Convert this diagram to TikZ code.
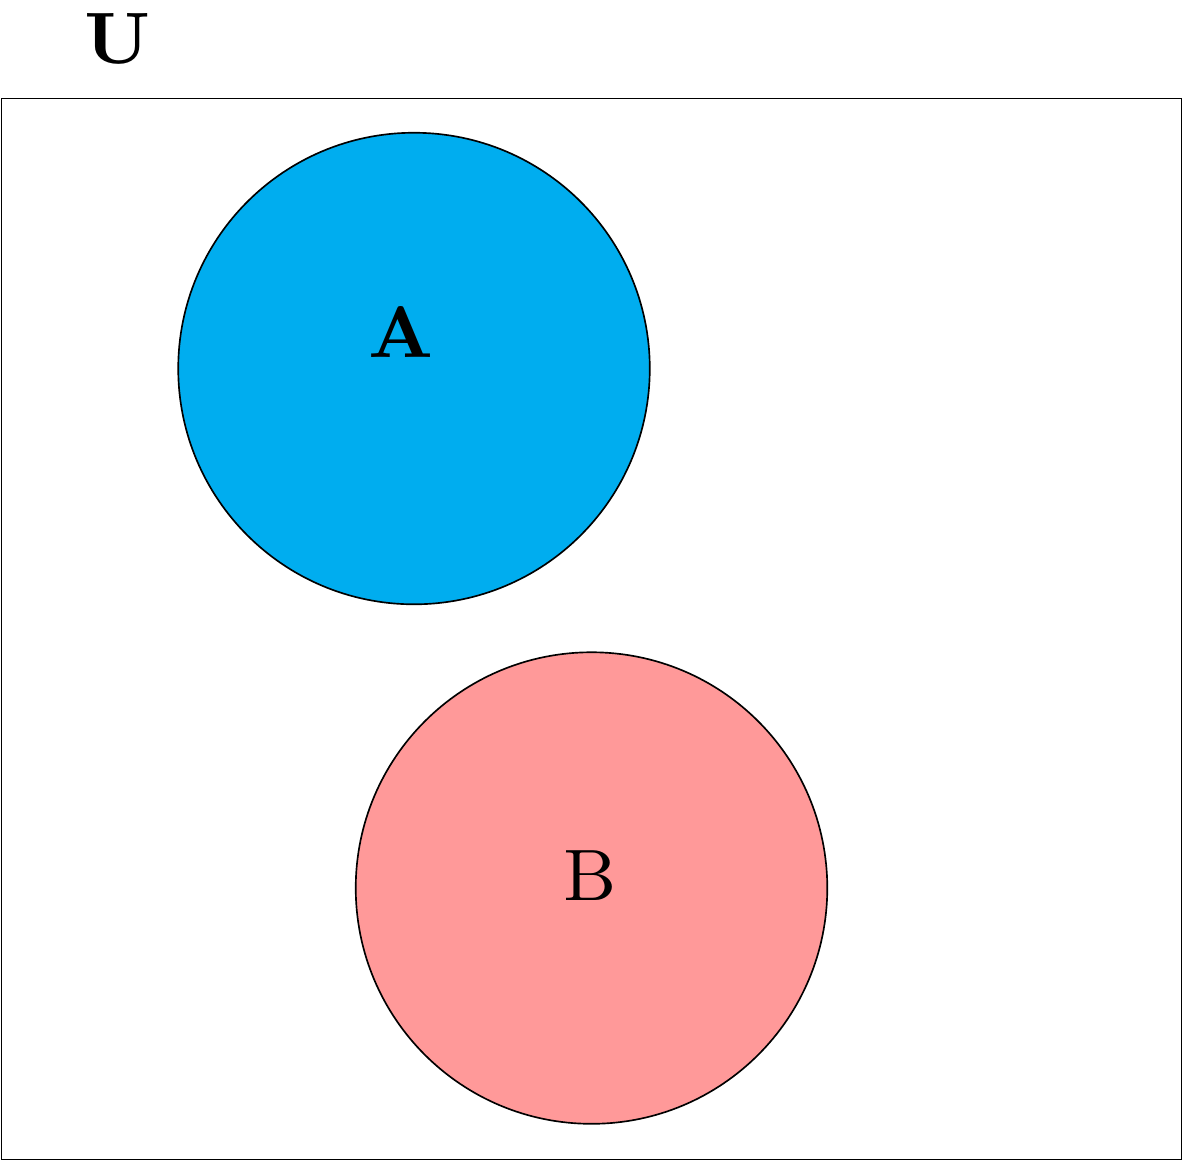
\documentclass[tikz,border=0pt]{standalone}
\begin{document}
\begin{tikzpicture}[x=0.0042373cm,y=-0.0042373cm,
  setcircle/.style={circle,draw=black,line width=0.2pt,minimum size=2cm,inner sep=0pt},
  lbl/.style={anchor=base,inner sep=0pt,font=\fontsize{8.8}{10}\selectfont}]
\useasboundingbox (0,0) rectangle (1183,1161);
\node[draw=black,line width=0.2pt,rectangle,minimum width=5.0042cm,minimum height=4.5cm,inner sep=0pt] (U) at (591.5,629) {};
\node[setcircle,fill=cyan] (A) at (414,368.5) {};
\node[setcircle,fill=red!40] (B) at (591.5,888) {};
\node[lbl] (Ulbl) at (118,63) {\textbf{U}};
\node[lbl] (Albl) at (401,357) {\textbf{A}};
\node[lbl] (Blbl) at (590,900) {B};
\end{tikzpicture}
\end{document}
